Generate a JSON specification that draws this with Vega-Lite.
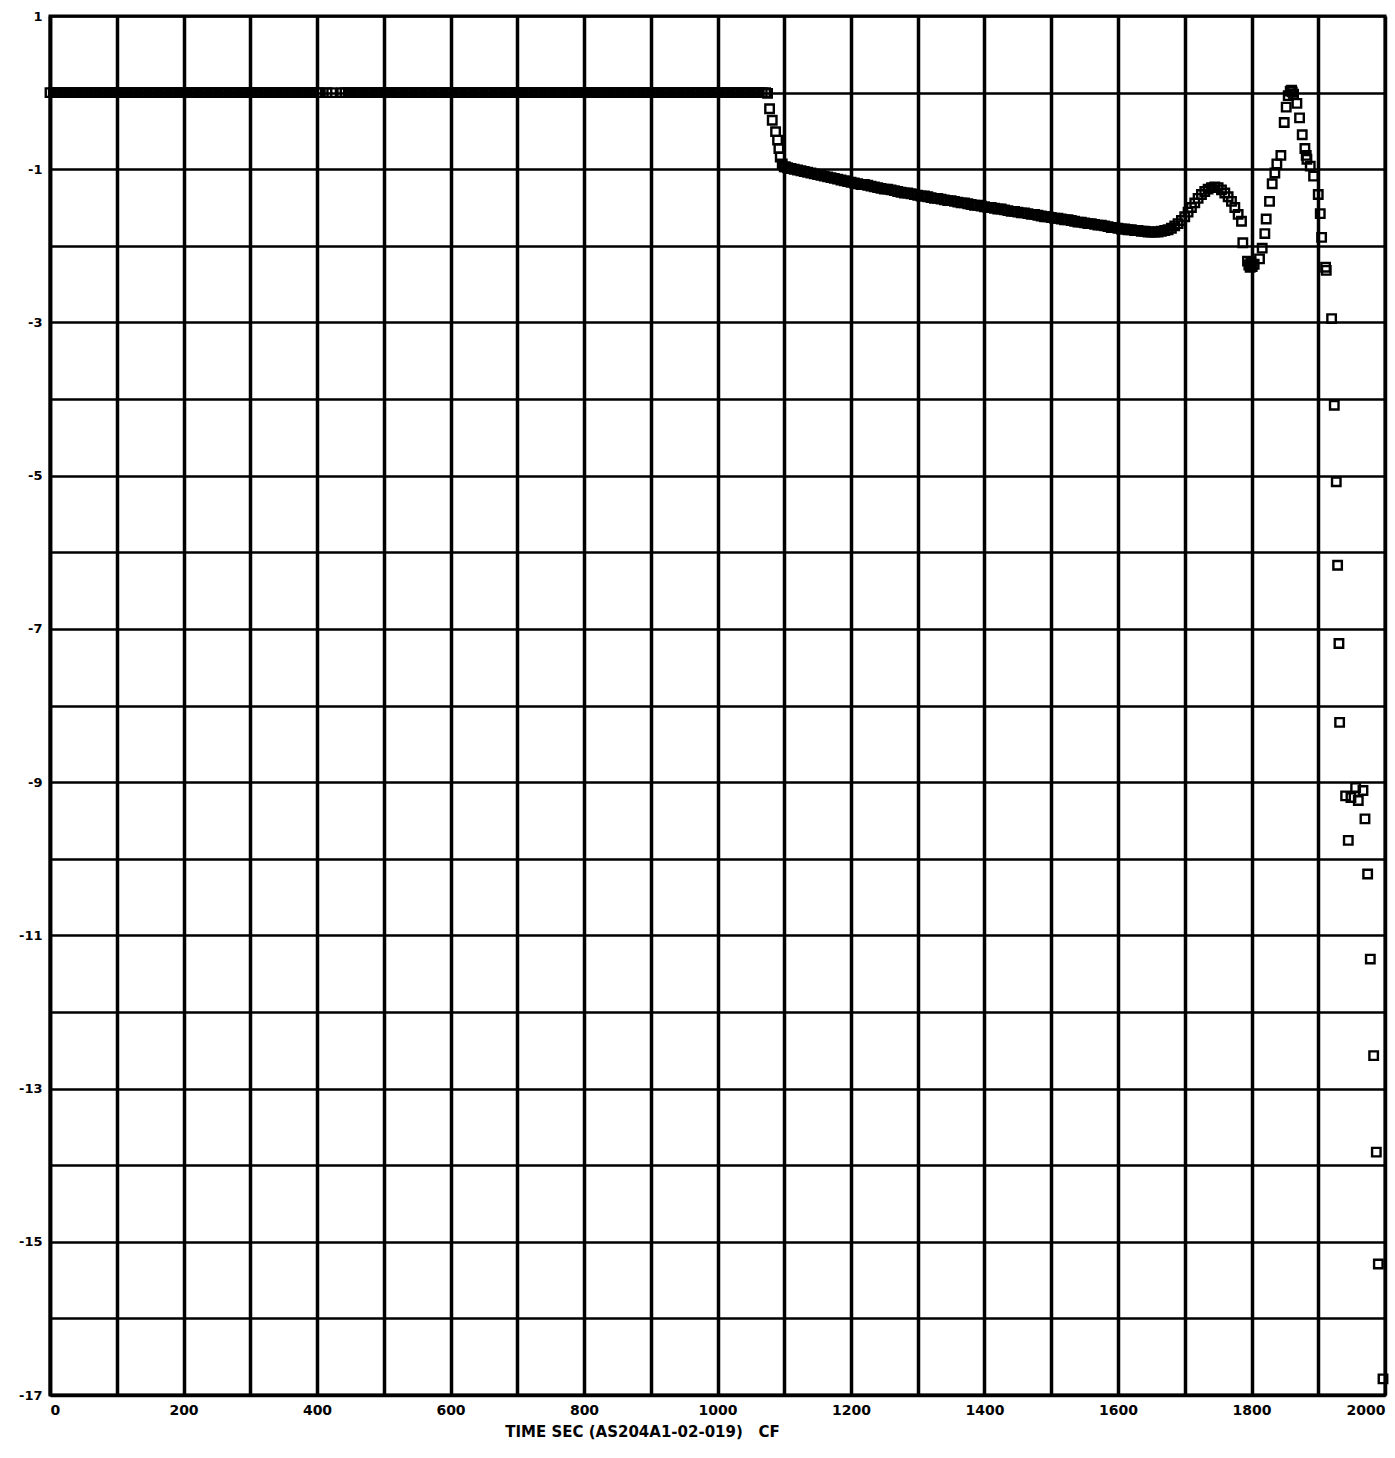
{
"$schema": "https://vega.github.io/schema/vega-lite/v6.json",
"width": 1335, "height": 1379,
"autosize": {"type": "none"},
"padding": {"left": 50, "top": 16, "right": 10, "bottom": 63},
"background": "white",
"config": {"view": {"stroke": "black", "strokeWidth": 3}, "font": "DejaVu Sans"},
"data": {"values": [
{"t":0,"v":0},{"t":5,"v":0},{"t":10,"v":0},{"t":15,"v":0},{"t":20,"v":0},{"t":25,"v":0},{"t":30,"v":0},{"t":35,"v":0},{"t":40,"v":0},{"t":45,"v":0},{"t":50,"v":0},{"t":55,"v":0},{"t":60,"v":0},{"t":65,"v":0},{"t":70,"v":0},{"t":75,"v":0},{"t":80,"v":0},{"t":85,"v":0},{"t":90,"v":0},{"t":95,"v":0},{"t":100,"v":0},{"t":105,"v":0},{"t":110,"v":0},{"t":115,"v":0},{"t":120,"v":0},{"t":125,"v":0},{"t":130,"v":0},{"t":135,"v":0},{"t":140,"v":0},{"t":145,"v":0},{"t":150,"v":0},{"t":155,"v":0},{"t":160,"v":0},{"t":165,"v":0},{"t":170,"v":0},{"t":175,"v":0},{"t":180,"v":0},{"t":185,"v":0},{"t":190,"v":0},{"t":195,"v":0},{"t":200,"v":0},{"t":205,"v":0},{"t":210,"v":0},{"t":215,"v":0},{"t":220,"v":0},{"t":225,"v":0},{"t":230,"v":0},{"t":235,"v":0},{"t":240,"v":0},{"t":245,"v":0},{"t":250,"v":0},{"t":255,"v":0},{"t":260,"v":0},{"t":265,"v":0},{"t":270,"v":0},{"t":275,"v":0},{"t":280,"v":0},{"t":285,"v":0},{"t":290,"v":0},{"t":295,"v":0},{"t":300,"v":0},{"t":305,"v":0},{"t":310,"v":0},{"t":315,"v":0},{"t":320,"v":0},{"t":325,"v":0},{"t":330,"v":0},{"t":335,"v":0},{"t":340,"v":0},{"t":345,"v":0},{"t":350,"v":0},{"t":355,"v":0},{"t":360,"v":0},{"t":365,"v":0},{"t":370,"v":0},{"t":375,"v":0},{"t":380,"v":0},{"t":385,"v":0},{"t":390,"v":0},{"t":395,"v":0},{"t":400,"v":0},{"t":405,"v":0},{"t":415,"v":0},{"t":422,"v":0},
{"t":437,"v":0},{"t":442,"v":0},{"t":447,"v":0},{"t":452,"v":0},{"t":457,"v":0},{"t":462,"v":0},{"t":467,"v":0},{"t":472,"v":0},{"t":477,"v":0},{"t":482,"v":0},{"t":487,"v":0},{"t":492,"v":0},{"t":497,"v":0},{"t":502,"v":0},{"t":507,"v":0},{"t":512,"v":0},{"t":517,"v":0},{"t":522,"v":0},{"t":527,"v":0},{"t":532,"v":0},{"t":537,"v":0},{"t":542,"v":0},{"t":547,"v":0},{"t":552,"v":0},{"t":557,"v":0},{"t":562,"v":0},{"t":567,"v":0},{"t":572,"v":0},{"t":577,"v":0},{"t":582,"v":0},{"t":587,"v":0},{"t":592,"v":0},{"t":597,"v":0},{"t":602,"v":0},{"t":607,"v":0},{"t":612,"v":0},{"t":617,"v":0},{"t":622,"v":0},{"t":627,"v":0},{"t":632,"v":0},{"t":637,"v":0},{"t":642,"v":0},{"t":647,"v":0},{"t":652,"v":0},{"t":657,"v":0},{"t":662,"v":0},{"t":667,"v":0},{"t":672,"v":0},{"t":677,"v":0},{"t":682,"v":0},{"t":687,"v":0},{"t":692,"v":0},{"t":697,"v":0},{"t":702,"v":0},{"t":707,"v":0},{"t":712,"v":0},{"t":717,"v":0},{"t":722,"v":0},{"t":727,"v":0},{"t":732,"v":0},{"t":737,"v":0},{"t":742,"v":0},{"t":747,"v":0},{"t":752,"v":0},{"t":757,"v":0},{"t":762,"v":0},{"t":767,"v":0},{"t":772,"v":0},{"t":777,"v":0},{"t":782,"v":0},{"t":787,"v":0},{"t":792,"v":0},{"t":797,"v":0},{"t":802,"v":0},{"t":807,"v":0},{"t":812,"v":0},{"t":817,"v":0},{"t":822,"v":0},{"t":827,"v":0},{"t":832,"v":0},{"t":837,"v":0},{"t":842,"v":0},{"t":847,"v":0},{"t":852,"v":0},{"t":857,"v":0},{"t":862,"v":0},{"t":867,"v":0},{"t":872,"v":0},{"t":877,"v":0},{"t":882,"v":0},{"t":887,"v":0},{"t":892,"v":0},{"t":897,"v":0},{"t":902,"v":0},{"t":907,"v":0},{"t":912,"v":0},{"t":917,"v":0},{"t":922,"v":0},{"t":927,"v":0},{"t":932,"v":0},{"t":937,"v":0},{"t":942,"v":0},{"t":947,"v":0},{"t":952,"v":0},{"t":957,"v":0},{"t":962,"v":0},{"t":967,"v":0},{"t":972,"v":0},{"t":977,"v":0},{"t":982,"v":0},{"t":987,"v":0},{"t":992,"v":0},{"t":997,"v":0},{"t":1002,"v":0},{"t":1007,"v":0},{"t":1012,"v":0},{"t":1017,"v":0},{"t":1022,"v":0},{"t":1027,"v":0},{"t":1032,"v":0},{"t":1037,"v":0},{"t":1042,"v":0},{"t":1047,"v":0},{"t":1052,"v":0},{"t":1057,"v":0},{"t":1062,"v":0},{"t":1067,"v":0},{"t":1072,"v":0},
{"t":1075,"v":-0.01},{"t":1078,"v":-0.21},{"t":1082,"v":-0.36},{"t":1087,"v":-0.51},{"t":1090,"v":-0.62},{"t":1092,"v":-0.73},{"t":1094,"v":-0.84},{"t":1097,"v":-0.93},
{"t":1100,"v":-0.97},{"t":1102,"v":-0.97},{"t":1105,"v":-0.98},{"t":1110,"v":-0.99},{"t":1115,"v":-1.0},{"t":1120,"v":-1.01},{"t":1125,"v":-1.02},{"t":1130,"v":-1.03},{"t":1135,"v":-1.04},{"t":1140,"v":-1.05},{"t":1145,"v":-1.06},{"t":1150,"v":-1.07},{"t":1155,"v":-1.08},{"t":1160,"v":-1.09},{"t":1165,"v":-1.1},{"t":1170,"v":-1.11},{"t":1175,"v":-1.12},{"t":1180,"v":-1.13},{"t":1185,"v":-1.14},{"t":1190,"v":-1.15},{"t":1195,"v":-1.16},
{"t":1200,"v":-1.17},{"t":1205,"v":-1.18},{"t":1210,"v":-1.19},{"t":1215,"v":-1.2},{"t":1220,"v":-1.2},{"t":1225,"v":-1.21},{"t":1230,"v":-1.22},{"t":1235,"v":-1.23},{"t":1240,"v":-1.24},{"t":1245,"v":-1.25},{"t":1250,"v":-1.26},{"t":1255,"v":-1.26},{"t":1260,"v":-1.27},{"t":1265,"v":-1.28},{"t":1270,"v":-1.29},{"t":1275,"v":-1.3},{"t":1280,"v":-1.31},{"t":1285,"v":-1.31},{"t":1290,"v":-1.32},{"t":1295,"v":-1.33},
{"t":1300,"v":-1.34},{"t":1305,"v":-1.35},{"t":1310,"v":-1.35},{"t":1315,"v":-1.36},{"t":1320,"v":-1.37},{"t":1325,"v":-1.38},{"t":1330,"v":-1.38},{"t":1335,"v":-1.39},{"t":1340,"v":-1.4},{"t":1345,"v":-1.41},{"t":1350,"v":-1.41},{"t":1355,"v":-1.42},{"t":1360,"v":-1.43},{"t":1365,"v":-1.44},{"t":1370,"v":-1.44},{"t":1375,"v":-1.45},{"t":1380,"v":-1.46},{"t":1385,"v":-1.47},{"t":1390,"v":-1.47},{"t":1395,"v":-1.48},
{"t":1400,"v":-1.49},{"t":1405,"v":-1.5},{"t":1410,"v":-1.5},{"t":1415,"v":-1.51},{"t":1420,"v":-1.52},{"t":1425,"v":-1.52},{"t":1430,"v":-1.53},{"t":1435,"v":-1.54},{"t":1440,"v":-1.55},{"t":1445,"v":-1.55},{"t":1450,"v":-1.56},{"t":1455,"v":-1.57},{"t":1460,"v":-1.57},{"t":1465,"v":-1.58},{"t":1470,"v":-1.59},{"t":1475,"v":-1.59},{"t":1480,"v":-1.6},{"t":1485,"v":-1.61},{"t":1490,"v":-1.62},{"t":1495,"v":-1.62},
{"t":1500,"v":-1.63},{"t":1505,"v":-1.64},{"t":1510,"v":-1.64},{"t":1515,"v":-1.65},{"t":1520,"v":-1.66},{"t":1525,"v":-1.66},{"t":1530,"v":-1.67},{"t":1535,"v":-1.68},{"t":1540,"v":-1.69},{"t":1545,"v":-1.69},{"t":1550,"v":-1.7},{"t":1555,"v":-1.71},{"t":1560,"v":-1.71},{"t":1565,"v":-1.72},{"t":1570,"v":-1.73},{"t":1575,"v":-1.73},{"t":1580,"v":-1.74},{"t":1585,"v":-1.75},{"t":1590,"v":-1.76},{"t":1595,"v":-1.76},
{"t":1600,"v":-1.77},{"t":1605,"v":-1.78},{"t":1610,"v":-1.78},{"t":1615,"v":-1.79},{"t":1620,"v":-1.79},{"t":1625,"v":-1.8},{"t":1630,"v":-1.8},{"t":1635,"v":-1.81},{"t":1640,"v":-1.81},{"t":1645,"v":-1.82},{"t":1650,"v":-1.82},{"t":1655,"v":-1.82},{"t":1660,"v":-1.82},{"t":1665,"v":-1.81},{"t":1670,"v":-1.8},{"t":1675,"v":-1.79},{"t":1680,"v":-1.77},{"t":1685,"v":-1.74},{"t":1690,"v":-1.71},{"t":1695,"v":-1.67},
{"t":1700,"v":-1.62},{"t":1705,"v":-1.56},{"t":1710,"v":-1.5},{"t":1715,"v":-1.44},{"t":1720,"v":-1.38},{"t":1725,"v":-1.33},{"t":1730,"v":-1.29},{"t":1735,"v":-1.26},{"t":1740,"v":-1.24},{"t":1745,"v":-1.23},{"t":1750,"v":-1.24},{"t":1755,"v":-1.27},{"t":1760,"v":-1.31},{"t":1765,"v":-1.36},{"t":1770,"v":-1.42},{"t":1775,"v":-1.5},{"t":1780,"v":-1.59},{"t":1785,"v":-1.68},
{"t":1787,"v":-1.96},{"t":1794,"v":-2.2},{"t":1796,"v":-2.25},{"t":1798,"v":-2.28},{"t":1799,"v":-2.22},{"t":1801,"v":-2.27},{"t":1804,"v":-2.24},
{"t":1812,"v":-2.17},{"t":1816,"v":-2.03},{"t":1820,"v":-1.84},{"t":1822,"v":-1.65},{"t":1827,"v":-1.42},{"t":1831,"v":-1.19},{"t":1835,"v":-1.05},{"t":1838,"v":-0.93},{"t":1844,"v":-0.82},{"t":1849,"v":-0.39},{"t":1852,"v":-0.19},{"t":1855,"v":-0.04},{"t":1858,"v":0.02},{"t":1860,"v":0.03},{"t":1861,"v":0.01},{"t":1863,"v":-0.02},
{"t":1868,"v":-0.14},{"t":1872,"v":-0.33},{"t":1876,"v":-0.55},{"t":1880,"v":-0.73},{"t":1882,"v":-0.82},{"t":1883,"v":-0.87},{"t":1888,"v":-0.96},{"t":1893,"v":-1.09},{"t":1900,"v":-1.33},{"t":1903,"v":-1.58},{"t":1905,"v":-1.89},{"t":1911,"v":-2.28},{"t":1912,"v":-2.32},
{"t":1920,"v":-2.95},{"t":1924,"v":-4.08},{"t":1927,"v":-5.08},{"t":1929,"v":-6.17},{"t":1931,"v":-7.19},{"t":1932,"v":-8.22},
{"t":1941,"v":-9.18},{"t":1949,"v":-9.2},{"t":1956,"v":-9.07},{"t":1960,"v":-9.24},{"t":1967,"v":-9.11},{"t":1970,"v":-9.48},{"t":1945,"v":-9.76},{"t":1974,"v":-10.2},
{"t":1978,"v":-11.31},{"t":1983,"v":-12.57},{"t":1987,"v":-13.83},{"t":1990,"v":-15.29},{"t":1997,"v":-16.79}
]},
"mark": {"type": "point", "shape": "square", "filled": false, "size": 72, "strokeWidth": 2.4, "color": "black", "opacity": 1},
"encoding": {
  "x": {"field": "t", "type": "quantitative",
    "scale": {"domain": [0, 2000], "nice": false, "zero": false},
    "axis": {
      "values": [0,100,200,300,400,500,600,700,800,900,1000,1100,1200,1300,1400,1500,1600,1700,1800,1900,2000],
      "grid": true, "gridColor": "black", "gridWidth": 3.5, "gridOpacity": 1,
      "ticks": false, "domainColor": "black", "domainWidth": 3.5,
      "labelExpr": "datum.value % 200 == 0 ? '' + datum.value : ''",
      "labelFlush": true, "labelOverlap": false, "labelBound": false,
      "labelFont": "DejaVu Sans", "labelFontWeight": "bold", "labelFontSize": 14, "labelColor": "black", "labelPadding": 8,
      "title": "TIME SEC (AS204A1-02-019)\u00a0\u00a0\u00a0CF",
      "titleFont": "DejaVu Sans", "titleFontWeight": "bold", "titleFontSize": 15, "titleColor": "black",
      "titleX": 592, "titleY": 36, "titleAlign": "center", "titleBaseline": "middle"
    }
  },
  "y": {"field": "v", "type": "quantitative",
    "scale": {"domain": [-17, 1], "nice": false, "zero": false},
    "axis": {
      "values": [-17,-16,-15,-14,-13,-12,-11,-10,-9,-8,-7,-6,-5,-4,-3,-2,-1,0,1],
      "grid": true, "gridColor": "black", "gridWidth": 2.6, "gridOpacity": 1,
      "ticks": false, "domainColor": "black", "domainWidth": 3.5,
      "labelExpr": "datum.value % 2 != 0 ? '' + datum.value : ''",
      "labelOverlap": false, "labelBound": false,
      "labelFont": "DejaVu Sans", "labelFontWeight": "bold", "labelFontSize": 13, "labelColor": "black", "labelPadding": 8,
      "title": null
    }
  }
}
}
